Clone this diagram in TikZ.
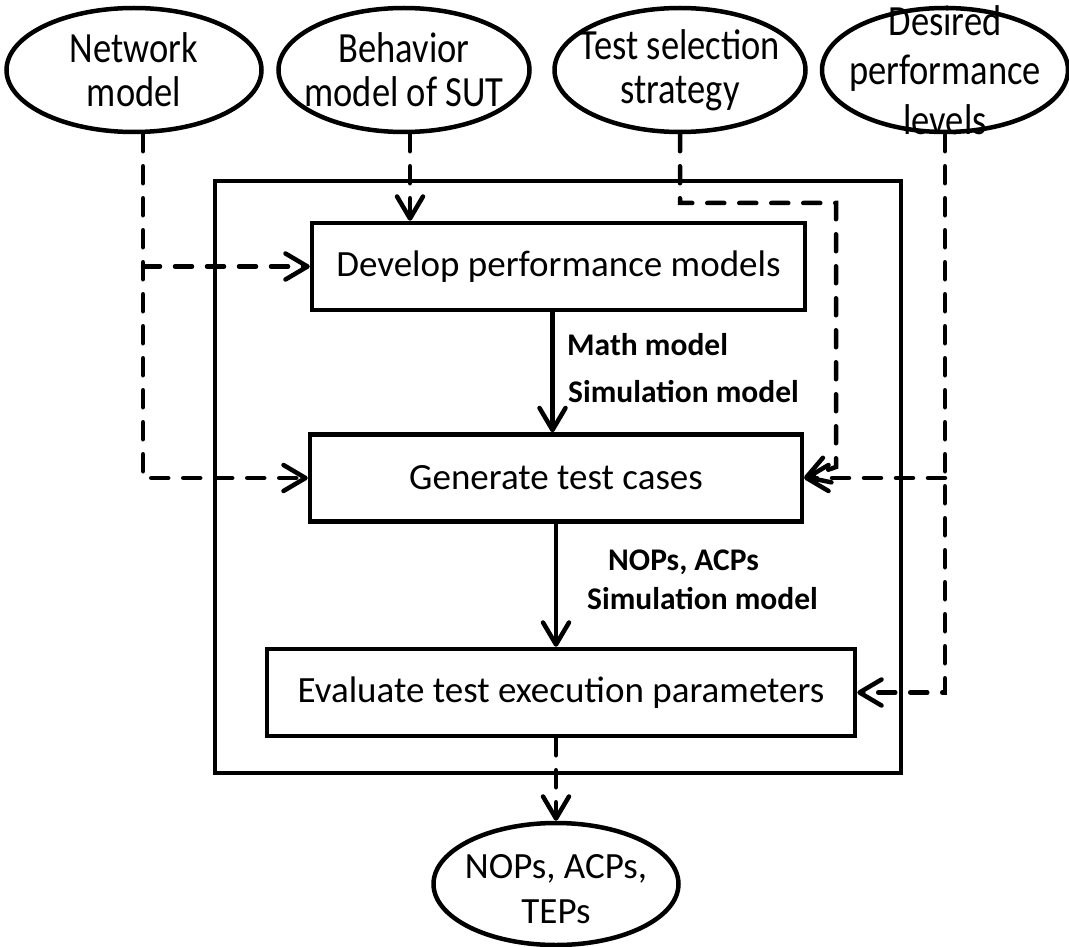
\documentclass[tikz,border=0pt]{standalone}
\usepackage{fontspec}
\setmainfont{Carlito}
\usetikzlibrary{shapes.geometric,arrows.meta}

\begin{document}
\begin{tikzpicture}[x=1pt,y=-1pt,
	trazo/.style={line width=4.5pt},
	entrada/.style={trazo,draw,ellipse,minimum height=124pt,inner sep=0pt},
	textoel/.style={align=center,inner sep=0pt,font=\fontsize{36.5}{37}\selectfont,yscale=1.18,transform shape},
	caja/.style={trazo,draw,rectangle,minimum height=87pt,font=\fontsize{37}{44}\selectfont},
	etiq/.style={anchor=base west,inner sep=0pt,font=\bfseries\fontsize{31.5}{38}\selectfont},
	flecha/.style={trazo,-{Straight Barb[length=22pt,width=26pt,round]}},
	discont/.style={flecha,line cap=round,dash pattern=on 17pt off 15pt}]
	\useasboundingbox (0,0) rectangle (1069,947);

	% Dibujar el marco
	\node[trazo,draw,minimum width=686pt,minimum height=592pt] (marco) at (558,477) {};

	% Dibujar las entradas
	\node[entrada,minimum width=255pt] (net) at (134,70) {};
	\node[entrada,minimum width=251pt] (beh) at (404,70) {};
	\node[entrada,minimum width=251pt] (tst) at (680,70) {};
	\node[entrada,minimum width=246pt] (des) at (945,70) {};
	\node[textoel] (net-t) at (net.center) {Network\\model};
	\node[textoel] (beh-t) at (beh.center) {Behavior\\model of SUT};
	\node[textoel] (tst-t) at (tst.center) {Test selection\\strategy};
	\node[textoel,font=\fontsize{36.5}{42}\selectfont] (des-t) at (des.center) {Desired\\performance\\levels};
	\node[entrada,minimum width=245pt,minimum height=122pt] (sal) at (556,884) {};
	\node[align=center,inner sep=0pt,font=\fontsize{37}{45}\selectfont] (sal-t) at ([yshift=-5pt]sal.center) {NOPs, ACPs,\\TEPs};

	% Dibujar las cajas
	\node[caja,minimum width=493pt] (dev) at (558.5,266.5) {Develop performance models};
	\node[caja,minimum width=492pt] (gen) at (556,478) {Generate test cases};
	\node[caja,minimum width=588pt] (eva) at (561,692.5) {Evaluate test execution parameters};

	% Etiquetas de las flechas
	\node[etiq] (m1) at (567,355) {Math model};
	\node[etiq] (m2) at (568,402) {Simulation model};
	\node[etiq] (p1) at (608,570) {NOPs, ACPs};
	\node[etiq] (p2) at (587,609) {Simulation model};

	% Flechas continuas
	\draw[flecha] ([xshift=-6pt]dev.south) -- ([xshift=-6pt]dev.south |- gen.north);
	\draw[flecha] (gen.south) -- (gen.south |- eva.north);

	% Flechas discontinuas
	\draw[discont] ([xshift=9pt]net.south) |- (gen.west);
	\draw[discont] ([xshift=9pt]net.south |- dev.west) -- (dev.west);
	\draw[discont] ([xshift=6pt]beh.south) -- ([xshift=6pt]beh.south |- dev.north);
	\coordinate (codo) at (836,203);
	\draw[discont] (tst.south) |- (codo) -- ++(0,264) -- (gen.east);
	\draw[discont] (des.south) |- (eva.east);
	\draw[discont] (des.south |- gen.east) -- (gen.east);
	\draw[discont] (eva.south -| sal.north) -- (sal.north);
\end{tikzpicture}
\end{document}
